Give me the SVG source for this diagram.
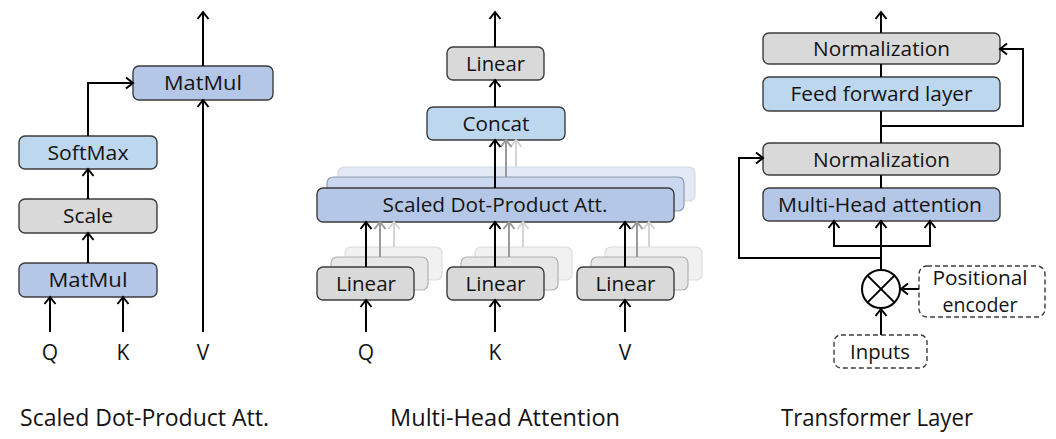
<svg xmlns="http://www.w3.org/2000/svg" width="1056" height="439" viewBox="0 0 1056 439">
  <defs>
    <style>
      .box { stroke: #3c3c3c; stroke-width: 1.4; }
      .blue { fill: #b4c7e7; }
      .lblue { fill: #bdd7ee; }
      .gray { fill: #d9d9d9; }
      .blue2 { fill: #cad7ee; stroke: #8e9bb0; stroke-width: 1.2; }
      .blue3 { fill: #e3e9f4; stroke: #d4d9e2; stroke-width: 1.2; }
      .gray2 { fill: #e7e7e7; stroke: #b2b2b2; stroke-width: 1.2; }
      .gray3 { fill: #f1f1f1; stroke: #dcdcdc; stroke-width: 1.2; }
      .dash { fill: #ffffff; stroke: #3c3c3c; stroke-width: 1.4; stroke-dasharray: 5 3; }
      .lbl { font-family: "Open Sans", "Liberation Sans", sans-serif; font-size: 20px; fill: #141414; text-anchor: middle; }
      .io { font-family: "Open Sans", "Liberation Sans", sans-serif; font-size: 21px; fill: #141414; text-anchor: middle; }
      .cap { font-family: "Open Sans", "Liberation Sans", sans-serif; font-size: 23px; fill: #141414; }
      .wire { fill: none; stroke: #000; stroke-width: 2; }
      .arr { fill: none; stroke: #000; stroke-width: 2; marker-end: url(#ah); }
      .arr2 { fill: none; stroke: #9a9a9a; stroke-width: 2; marker-end: url(#ah2); }
      .arr3 { fill: none; stroke: #d4d4d4; stroke-width: 2; marker-end: url(#ah3); }
    </style>
    <marker id="ah" viewBox="-10 -8 12 16" markerWidth="12" markerHeight="16" refX="0" refY="0" orient="auto" markerUnits="userSpaceOnUse">
      <path d="M-7,-5.5 L0,0 L-7,5.5" fill="none" stroke="#000" stroke-width="2"/>
    </marker>
    <marker id="ah2" viewBox="-10 -8 12 16" markerWidth="12" markerHeight="16" refX="0" refY="0" orient="auto" markerUnits="userSpaceOnUse">
      <path d="M-7,-5.5 L0,0 L-7,5.5" fill="none" stroke="#9a9a9a" stroke-width="2"/>
    </marker>
    <marker id="ah3" viewBox="-10 -8 12 16" markerWidth="12" markerHeight="16" refX="0" refY="0" orient="auto" markerUnits="userSpaceOnUse">
      <path d="M-7,-5.5 L0,0 L-7,5.5" fill="none" stroke="#d4d4d4" stroke-width="2"/>
    </marker>
  </defs>

  <rect width="1056" height="439" fill="#ffffff"/>

  <!-- ===== Scaled Dot-Product Attention ===== -->
  <g id="sdpa-matmul-top">
    <rect class="box blue" x="133" y="66" width="140" height="34" rx="6"/>
    <text class="lbl" x="203" y="90" textLength="78" lengthAdjust="spacingAndGlyphs">MatMul</text>
  </g>
  <g id="sdpa-softmax">
    <rect class="box lblue" x="19" y="136" width="138" height="33" rx="6"/>
    <text class="lbl" x="88" y="159.5" textLength="81" lengthAdjust="spacingAndGlyphs">SoftMax</text>
  </g>
  <g id="sdpa-scale">
    <rect class="box gray" x="19" y="199" width="138" height="34" rx="6"/>
    <text class="lbl" x="88" y="223" textLength="50" lengthAdjust="spacingAndGlyphs">Scale</text>
  </g>
  <g id="sdpa-matmul-bottom">
    <rect class="box blue" x="19" y="263" width="138" height="34" rx="6"/>
    <text class="lbl" x="88" y="287" textLength="79" lengthAdjust="spacingAndGlyphs">MatMul</text>
  </g>
  <g id="sdpa-inputs">
    <text class="io" x="50" y="360">Q</text>
    <text class="io" x="123" y="360">K</text>
    <text class="io" x="203" y="360">V</text>
  </g>

  <!-- ===== Multi-Head Attention ===== -->
  <g id="mha-linear-out">
    <rect class="box gray" x="447" y="47" width="97" height="33" rx="6"/>
    <text class="lbl" x="495.5" y="70.5" textLength="59" lengthAdjust="spacingAndGlyphs">Linear</text>
  </g>
  <g id="mha-concat">
    <rect class="box lblue" x="427" y="107" width="138" height="33" rx="6"/>
    <text class="lbl" x="496" y="130.5" textLength="67" lengthAdjust="spacingAndGlyphs">Concat</text>
  </g>
  <g id="mha-sdpa">
    <rect class="blue3" x="338" y="167" width="357" height="34" rx="6"/>
    <rect class="blue2" x="327" y="177" width="357" height="34" rx="6"/>
    <rect class="box blue" x="317" y="188" width="357" height="34" rx="6"/>
    <text class="lbl" x="495" y="212" textLength="225" lengthAdjust="spacingAndGlyphs">Scaled Dot-Product Att.</text>
  </g>
  <g id="mha-linear-q">
    <rect class="gray3" x="345" y="247" width="97" height="33" rx="6"/>
    <rect class="gray2" x="331" y="257" width="97" height="33" rx="6"/>
    <rect class="box gray" x="317" y="267" width="97" height="33" rx="6"/>
    <text class="lbl" x="366" y="290.5" textLength="60" lengthAdjust="spacingAndGlyphs">Linear</text>
  </g>
  <g id="mha-linear-k">
    <rect class="gray3" x="475" y="247" width="97" height="33" rx="6"/>
    <rect class="gray2" x="461" y="257" width="97" height="33" rx="6"/>
    <rect class="box gray" x="447" y="267" width="97" height="33" rx="6"/>
    <text class="lbl" x="495.5" y="290.5" textLength="60" lengthAdjust="spacingAndGlyphs">Linear</text>
  </g>
  <g id="mha-linear-v">
    <rect class="gray3" x="605" y="247" width="97" height="33" rx="6"/>
    <rect class="gray2" x="591" y="257" width="97" height="33" rx="6"/>
    <rect class="box gray" x="577" y="267" width="97" height="33" rx="6"/>
    <text class="lbl" x="625.5" y="290.5" textLength="60" lengthAdjust="spacingAndGlyphs">Linear</text>
  </g>
  <g id="mha-inputs">
    <text class="io" x="366" y="360">Q</text>
    <text class="io" x="495" y="360">K</text>
    <text class="io" x="625" y="360">V</text>
  </g>

  <!-- ===== Transformer Layer ===== -->
  <g id="tl-norm-top">
    <rect class="box gray" x="763" y="33" width="237" height="31" rx="6"/>
    <text class="lbl" x="881.5" y="55.5" textLength="137" lengthAdjust="spacingAndGlyphs">Normalization</text>
  </g>
  <g id="tl-ffn">
    <rect class="box lblue" x="763" y="77" width="237" height="34" rx="6"/>
    <text class="lbl" x="881.5" y="101" textLength="182" lengthAdjust="spacingAndGlyphs">Feed forward layer</text>
  </g>
  <g id="tl-norm-mid">
    <rect class="box gray" x="763" y="143" width="237" height="32" rx="6"/>
    <text class="lbl" x="881.5" y="166.5" textLength="137" lengthAdjust="spacingAndGlyphs">Normalization</text>
  </g>
  <g id="tl-mha">
    <rect class="box blue" x="763" y="188" width="237" height="33" rx="6"/>
    <text class="lbl" x="880" y="211.5" textLength="204" lengthAdjust="spacingAndGlyphs">Multi-Head attention</text>
  </g>
  <g id="tl-combine">
    <circle cx="881" cy="289" r="19" fill="#ffffff" stroke="#000" stroke-width="2"/>
    <path d="M867.6,275.6 L894.4,302.4 M894.4,275.6 L867.6,302.4" stroke="#000" stroke-width="2" fill="none"/>
  </g>
  <g id="tl-posenc">
    <rect class="dash" x="919" y="266" width="126" height="51" rx="8"/>
    <text class="lbl" x="980" y="284.5" textLength="95" lengthAdjust="spacingAndGlyphs">Positional</text>
    <text class="lbl" x="980" y="312" textLength="75" lengthAdjust="spacingAndGlyphs">encoder</text>
  </g>
  <g id="tl-inputs">
    <rect class="dash" x="834" y="335" width="93" height="33" rx="7"/>
    <text class="lbl" x="880" y="358.5" textLength="60" lengthAdjust="spacingAndGlyphs">Inputs</text>
  </g>

  <!-- ===== connectors ===== -->
  <g id="connectors">
    <!-- scaled dot-product attention -->
    <line class="arr" x1="203" y1="66" x2="203" y2="12"/>
    <line class="arr" x1="203" y1="332" x2="203" y2="100"/>
    <path class="arr" d="M88,136 V83 H133"/>
    <line class="arr" x1="88" y1="199" x2="88" y2="169"/>
    <line class="arr" x1="88" y1="263" x2="88" y2="233"/>
    <line class="arr" x1="50" y1="332" x2="50" y2="297"/>
    <line class="arr" x1="123" y1="332" x2="123" y2="297"/>

    <!-- multi-head attention -->
    <line class="arr" x1="495" y1="47" x2="495" y2="12"/>
    <line class="arr" x1="495" y1="107" x2="495" y2="80"/>
    <line class="arr3" x1="516" y1="167" x2="516" y2="140"/>
    <line class="arr2" x1="506" y1="177" x2="506" y2="140"/>
    <line class="arr" x1="495" y1="188" x2="495" y2="140"/>

    <line class="arr3" x1="394" y1="247" x2="394" y2="222"/>
    <line class="arr2" x1="380" y1="257" x2="380" y2="222"/>
    <line class="arr" x1="366" y1="267" x2="366" y2="222"/>
    <line class="arr3" x1="523" y1="247" x2="523" y2="222"/>
    <line class="arr2" x1="509" y1="257" x2="509" y2="222"/>
    <line class="arr" x1="495" y1="267" x2="495" y2="222"/>
    <line class="arr3" x1="649" y1="247" x2="649" y2="222"/>
    <line class="arr2" x1="637" y1="257" x2="637" y2="222"/>
    <line class="arr" x1="625" y1="267" x2="625" y2="222"/>

    <line class="arr" x1="366" y1="332" x2="366" y2="300"/>
    <line class="arr" x1="495" y1="332" x2="495" y2="300"/>
    <line class="arr" x1="625" y1="332" x2="625" y2="300"/>

    <!-- transformer layer -->
    <line class="arr" x1="881" y1="33" x2="881" y2="12"/>
    <line class="wire" x1="881" y1="64" x2="881" y2="77"/>
    <line class="wire" x1="881" y1="111" x2="881" y2="143"/>
    <path class="arr" d="M881,126 H1023 V49 H1000"/>
    <line class="wire" x1="881" y1="175" x2="881" y2="188"/>
    <line class="arr" x1="881" y1="270" x2="881" y2="221"/>
    <path class="arr" d="M881,246 H834 V221"/>
    <path class="arr" d="M881,246 H930 V221"/>
    <path class="arr" d="M881,258 H739 V158 H763"/>
    <line class="arr" x1="919" y1="289" x2="901" y2="289"/>
    <line class="arr" x1="881" y1="335" x2="881" y2="309"/>
  </g>

  <!-- captions -->
  <g id="captions">
    <text class="cap" x="20" y="426" textLength="249" lengthAdjust="spacingAndGlyphs">Scaled Dot-Product Att.</text>
    <text class="cap" x="390" y="426" textLength="230" lengthAdjust="spacingAndGlyphs">Multi-Head Attention</text>
    <text class="cap" x="781" y="426" textLength="192" lengthAdjust="spacingAndGlyphs">Transformer Layer</text>
  </g>
</svg>
